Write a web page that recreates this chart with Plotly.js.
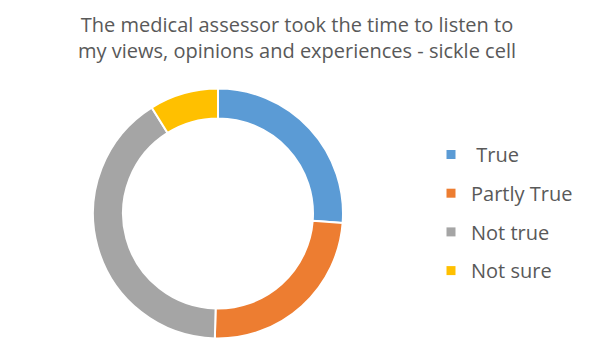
<!DOCTYPE html>
<html><head><meta charset="utf-8">
<script src="https://cdn.plot.ly/plotly-3.0.1.min.js"></script>
<style>html,body{margin:0;padding:0;background:#fff}</style>
</head><body><div id="chart" style="width:594px;height:356px"></div>
<script>
const categories = ["True", "Partly True", "Not true", "Not sure"];
const legendLabels = [" True", "Partly True", "Not true", "Not sure"];
const values = [26.2, 24.2, 40.7, 8.9];
const colors = ["#5B9BD5", "#ED7D31", "#A5A5A5", "#FFC000"];
const titleText = "The medical assessor took the time to listen to<br>my views, opinions and experiences - sickle cell";

const traces = [{
  type: "pie", labels: categories, values: values, sort: false,
  direction: "clockwise", rotation: 0, hole: 0.76, textinfo: "none",
  hoverinfo: "label+percent", showlegend: false,
  marker: {colors: colors, line: {color: "#ffffff", width: 2}},
  domain: {x: [93/594, 343/594], y: [17.5/356, 267.5/356]}
}];
categories.forEach((c, i) => traces.push({
  type: "scatter", mode: "markers", x: [null], y: [null], name: legendLabels[i],
  legendgroup: "g" + i, showlegend: true,
  marker: {symbol: "square", size: 9, color: colors[i]}
}));

Plotly.newPlot("chart", traces, {
  width: 594, height: 356,
  margin: {l: 0, r: 0, t: 0, b: 0},
  paper_bgcolor: "#fff", plot_bgcolor: "#fff",
  xaxis: {visible: false}, yaxis: {visible: false},
  title: {text: titleText, x: 0.5, xanchor: "center", yref: "container", y: 0.91, yanchor: "middle",
          font: {family: "Open Sans", size: 20, color: "#595959"}},
  legend: {x: 431/594, xanchor: "left", y: 1 - 213/356, yanchor: "middle",
           traceorder: "grouped", tracegroupgap: 9.7,
           font: {family: "Open Sans", size: 20, color: "#595959"}},
  showlegend: true
}, {displayModeBar: false, staticPlot: true});
</script></body></html>
